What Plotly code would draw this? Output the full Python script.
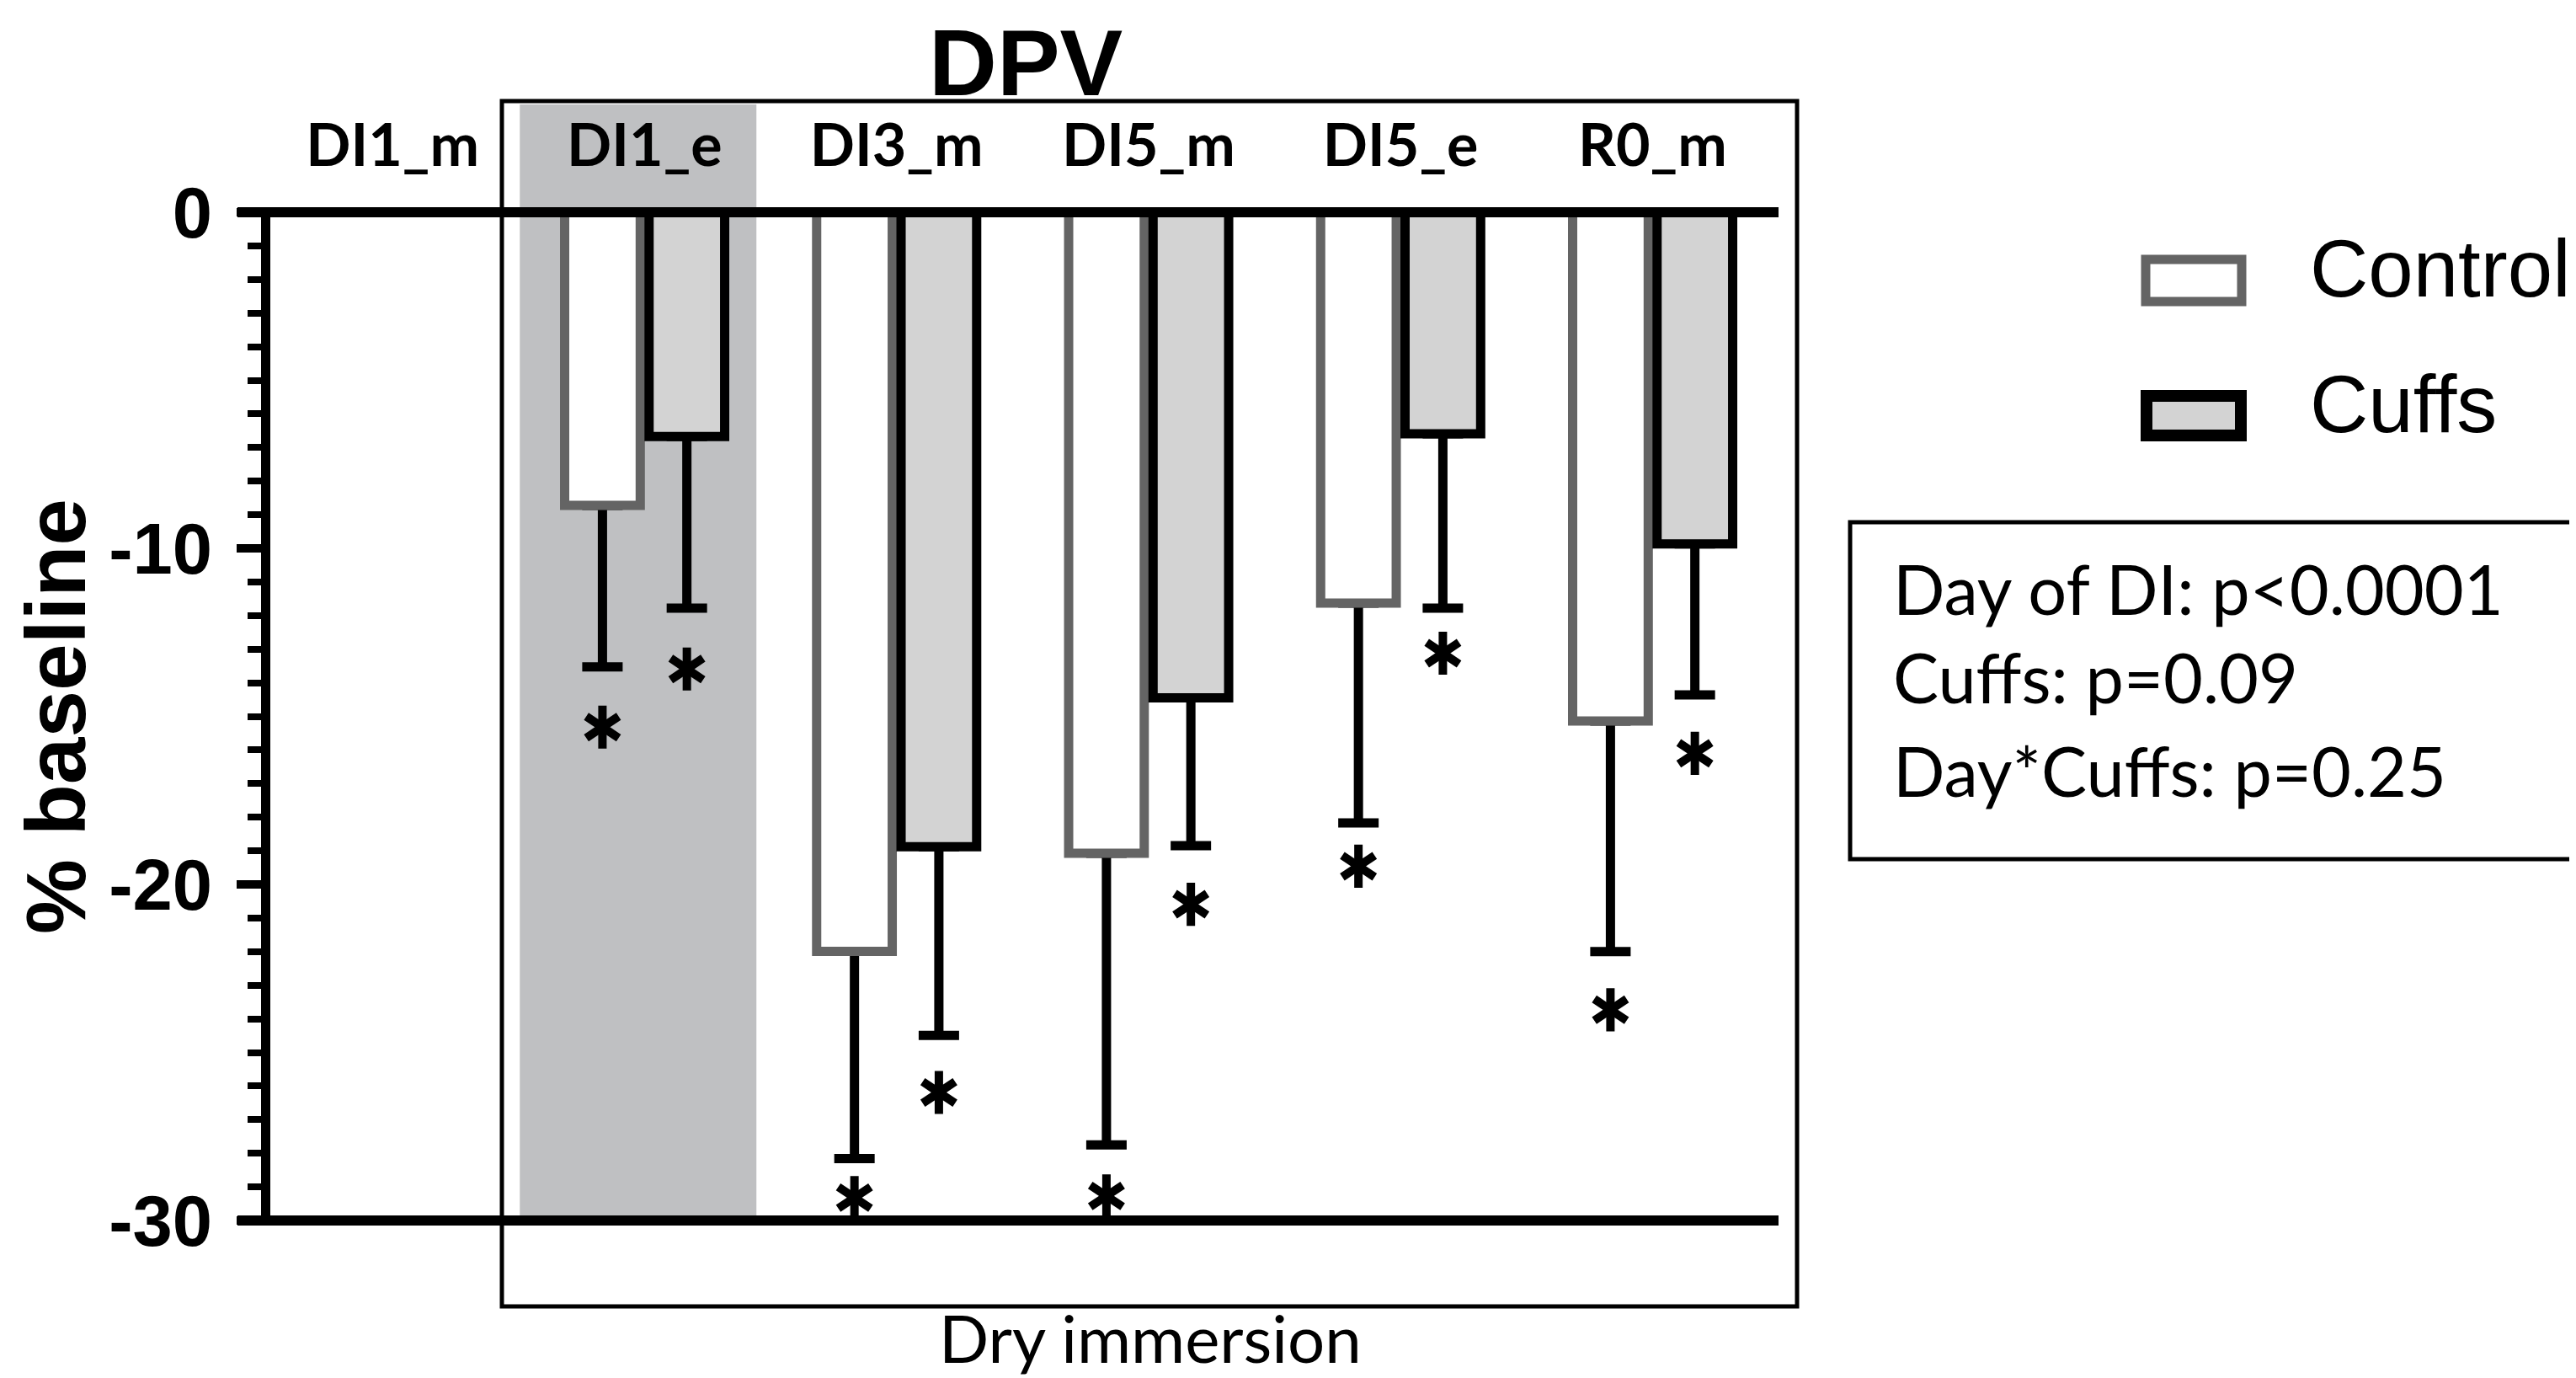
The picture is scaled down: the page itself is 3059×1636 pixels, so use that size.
import plotly.graph_objects as go

# values (% of baseline), DI1_m has no data
categories = ['DI1_m', 'DI1_e', 'DI3_m', 'DI5_m', 'DI5_e', 'R0_m']
ctrl_mean = [None, -8.72, -21.99, -19.07, -11.63, -15.14]
ctrl_sd = [None, 4.81, 6.17, 8.68, 6.54, 6.86]
cuff_mean = [None, -6.67, -18.88, -14.45, -6.59, -9.87]
cuff_sd = [None, 5.11, 5.61, 4.40, 5.19, 4.49]
# where the significance stars sit
ctrl_star = [None, -15.32, -29.32, -29.27, -19.46, -23.73]
cuff_star = [None, -13.59, -26.19, -20.59, -13.12, -16.10]

y_ticks = [0, -10, -20, -30]
y_ticktext = ['0', '-10', '-20', '-30']
stats_lines = ['Day of DI: p<0.0001', 'Cuffs: p=0.09', 'Day*Cuffs: p=0.25']

W, H = 3059, 1636
L, R, T, B = 313, 2104, 244, 1441


def px_x(p):
    return (p - L) / (R - L)


def px_y(p):
    return (B - p) / (B - T)


ARIAL = 'Liberation Sans'
CALIBRI = 'Lato'
GREY_LINE = 'rgb(100,100,100)'
CUFF_FILL = 'rgb(211,211,211)'

idx = list(range(len(categories)))
ctrl_x = [i - 0.167 for i in idx]
cuff_x = [i + 0.168 for i in idx]
zeros = [0] * len(idx)

fig = go.Figure()

# error bars first, so the bars cover the hat at the bar end
for xs, ys, sd in [(ctrl_x, ctrl_mean, ctrl_sd), (cuff_x, cuff_mean, cuff_sd)]:
    fig.add_trace(go.Bar(
        x=xs, y=ys, width=0.30,
        marker=dict(color='rgba(0,0,0,0)', line=dict(width=0)),
        error_y=dict(type='data', symmetric=False, array=zeros, arrayminus=sd,
                     thickness=11, width=24, color='black'),
        hoverinfo='skip', showlegend=False))

fig.add_trace(go.Bar(x=ctrl_x, y=ctrl_mean, width=0.30, name='Control',
                     marker=dict(color='white', line=dict(color=GREY_LINE, width=11))))
fig.add_trace(go.Bar(x=cuff_x, y=cuff_mean, width=0.30, name='Cuffs',
                     marker=dict(color=CUFF_FILL, line=dict(color='black', width=11))))

# six-armed asterisks built from two overlaid marker symbols
for sym in ['y-up', 'y-down']:
    fig.add_trace(go.Scatter(
        x=ctrl_x + cuff_x, y=ctrl_star + cuff_star, mode='markers',
        marker=dict(symbol=sym, size=32, line=dict(width=10, color='black')),
        cliponaxis=False, hoverinfo='skip', showlegend=False))

shapes = [
    # shaded DI1_e column
    dict(type='rect', xref='x', yref='paper', x0=0.505, x1=1.444, y0=0, y1=px_y(116),
         fillcolor='rgb(191,192,194)', line=dict(width=0), layer='below'),
    # dry immersion bracket
    dict(type='rect', xref='paper', yref='paper', x0=px_x(588), x1=px_x(2126),
         y0=px_y(1543), y1=px_y(112), line=dict(color='black', width=5)),
    # top and bottom frame lines
    dict(type='line', xref='paper', yref='paper', x0=px_x(274), x1=1, y0=1, y1=1,
         line=dict(color='black', width=12)),
    dict(type='line', xref='paper', yref='paper', x0=px_x(274), x1=1, y0=0, y1=0,
         line=dict(color='black', width=12)),
    # legend swatches
    dict(type='rect', xref='paper', yref='paper', x0=px_x(2540), x1=px_x(2654),
         y0=px_y(350), y1=px_y(300), fillcolor='white', line=dict(color=GREY_LINE, width=11)),
    dict(type='rect', xref='paper', yref='paper', x0=px_x(2541), x1=px_x(2653),
         y0=px_y(509), y1=px_y(462), fillcolor=CUFF_FILL, line=dict(color='black', width=14)),
    # stats box
    dict(type='rect', xref='paper', yref='paper', x0=px_x(2189), x1=px_x(3051),
         y0=px_y(1012), y1=px_y(612), line=dict(color='black', width=5)),
]

annotations = [
    dict(text='DPV', x=px_x(1210), y=px_y(2), xanchor='center', yanchor='top',
         font=dict(family=ARIAL, size=112, color='black', weight='bold')),
    dict(text='% baseline', x=px_x(58), y=px_y(843), textangle=-90,
         xanchor='center', yanchor='middle',
         font=dict(family=ARIAL, size=100, color='black', weight='bold')),
    dict(text='Dry immersion', x=px_x(1358), y=px_y(1580), xanchor='center', yanchor='middle',
         font=dict(family=CALIBRI, size=78, color='black')),
    dict(text='Control', x=px_x(2733), y=px_y(310), xanchor='left', yanchor='middle',
         font=dict(family=ARIAL, size=96, color='black')),
    dict(text='Cuffs', x=px_x(2733), y=px_y(471), xanchor='left', yanchor='middle',
         font=dict(family=ARIAL, size=96, color='black')),
]
for line, yc in zip(stats_lines, [690, 795, 906]):
    annotations.append(dict(text=line, x=px_x(2238), y=px_y(yc), xanchor='left', yanchor='middle',
                            font=dict(family=CALIBRI, size=81, color='black')))
for a in annotations:
    a.update(xref='paper', yref='paper', showarrow=False)

fig.update_layout(
    width=W, height=H, autosize=False,
    margin=dict(l=L, r=W - R, t=T, b=H - B, pad=0),
    paper_bgcolor='white', plot_bgcolor='rgba(0,0,0,0)',
    barmode='overlay', showlegend=False,
    shapes=shapes, annotations=annotations,
    xaxis=dict(range=[-0.485, 5.5], tickmode='array', tickvals=idx, ticktext=categories,
               side='top', showline=False, showgrid=False, zeroline=False, ticks='',
               ticklabelstandoff=40,
               tickfont=dict(family=CALIBRI, size=70, color='black', weight='bold')),
    yaxis=dict(range=[-30, 0], tickmode='array', tickvals=y_ticks, ticktext=y_ticktext,
               ticks='outside', ticklen=29, tickwidth=10, tickcolor='black',
               showline=True, linewidth=11, linecolor='black',
               showgrid=False, zeroline=False, ticklabelstandoff=12,
               minor=dict(tickmode='linear', tick0=0, dtick=1, ticks='outside',
                          ticklen=16, tickwidth=8, tickcolor='black', showgrid=False),
               tickfont=dict(family=ARIAL, size=85, color='black', weight='bold')),
)

fig.write_html('out.html')
